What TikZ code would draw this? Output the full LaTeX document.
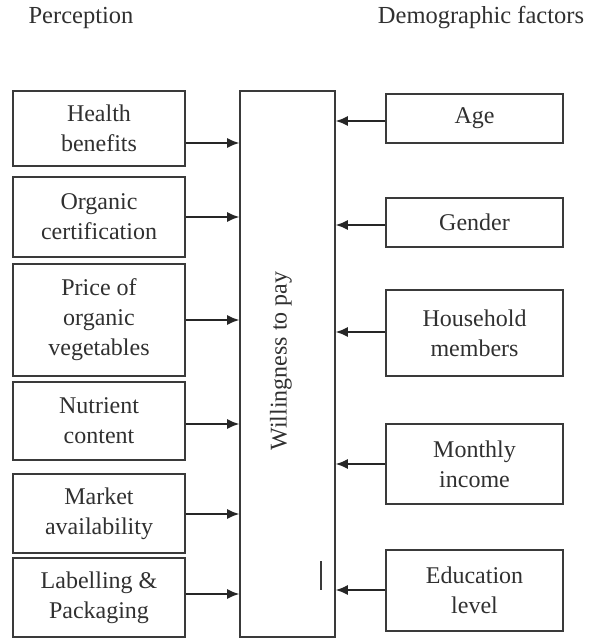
\documentclass[tikz,border=0pt]{standalone}
\usepackage{fontspec}
\setmainfont{Liberation Serif}
\usetikzlibrary{arrows.meta}
\definecolor{ink}{HTML}{3A3A3A}
\definecolor{txt}{HTML}{303030}
\begin{document}
\begin{tikzpicture}[x=1pt,y=-1pt,
  box/.style={draw=ink,line width=1.6pt,rectangle,inner sep=0pt,align=center,text=txt,
    font=\fontsize{24}{30}\selectfont},
  lbox/.style={box,minimum width=172pt},
  rbox/.style={box,minimum width=177pt},
  conn/.style={draw=black!85,line width=1.4pt,-{Latex[length=12pt,width=10pt]}},
  ttl/.style={text=txt,font=\fontsize{24.5}{28}\selectfont,inner sep=0pt}]
\useasboundingbox (0,0) rectangle (595,639);
% titles
\node[ttl] (tp) at (81,18) {Perception};
\node[ttl] (td) at (481,18) {Demographic factors};
% centre box
\node[box,minimum width=95pt,minimum height=546pt] (w) at (287.5,364) {};
\node[text=txt,font=\fontsize{24}{28}\selectfont,rotate=90,inner sep=0pt] (wt) at (281,361) {Willingness to pay};
% left boxes
\node[lbox,minimum height=75pt] (l1) at (99,128.5) {Health\\benefits};
\node[lbox,minimum height=80pt] (l2) at (99,217) {Organic\\certification};
\node[lbox,minimum height=112pt] (l3) at (99,320) {Price of\\organic\\vegetables};
\node[lbox,minimum height=78pt] (l4) at (99,421) {Nutrient\\content};
\node[lbox,minimum height=79pt] (l5) at (99,513.5) {Market\\availability};
\node[lbox,minimum height=79pt] (l6) at (99,597.5) {Labelling \&\\Packaging};
% right boxes
\node[rbox,minimum height=49pt] (r1) at (474.5,118.5) {Age};
\node[rbox,minimum height=49pt] (r2) at (474.5,222.5) {Gender};
\node[rbox,minimum height=86pt] (r3) at (474.5,333) {Household\\members};
\node[rbox,minimum height=80pt] (r4) at (474.5,464) {Monthly\\income};
\node[rbox,minimum height=81pt] (r5) at (474.5,590.5) {Education\\level};
% left connectors
\draw[conn] (l1.east |- 0,143) -- (w.west |- 0,143);
\draw[conn] (l2.east |- 0,217) -- (w.west |- 0,217);
\draw[conn] (l3.east |- 0,320) -- (w.west |- 0,320);
\draw[conn] (l4.east |- 0,424) -- (w.west |- 0,424);
\draw[conn] (l5.east |- 0,514) -- (w.west |- 0,514);
\draw[conn] (l6.east |- 0,594) -- (w.west |- 0,594);
% right connectors
\draw[conn] (r1.west |- 0,121) -- (w.east |- 0,121);
\draw[conn] (r2.west |- 0,225) -- (w.east |- 0,225);
\draw[conn] (r3.west |- 0,332) -- (w.east |- 0,332);
\draw[conn] (r4.west |- 0,464) -- (w.east |- 0,464);
\draw[conn] (r5.west |- 0,590) -- (w.east |- 0,590);
% small mark
\coordinate (m1) at (321,561);
\coordinate (m2) at (321,590);
\draw[ink,line width=1.2pt] (m1) -- (m2);
\end{tikzpicture}
\end{document}
